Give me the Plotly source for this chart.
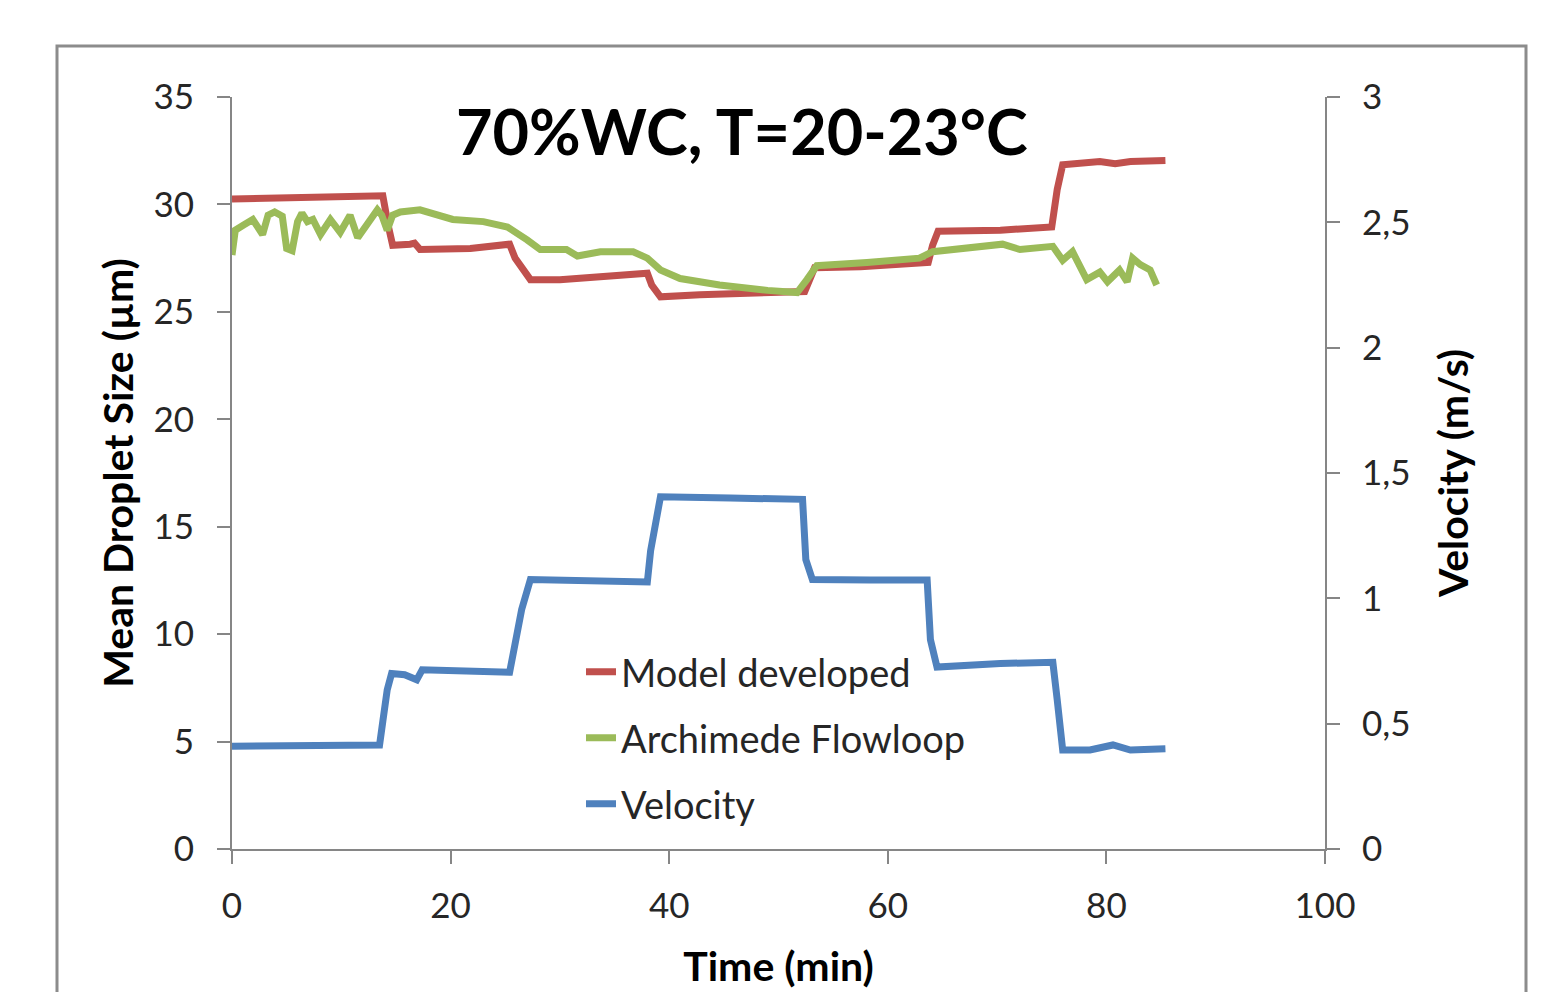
import plotly.graph_objects as go

# ---- data ----
model_t = [0, 6.2, 12.6, 13.8, 14.3, 14.7, 16.3, 16.7, 17.2, 21.8, 25.4, 25.9, 27.3, 30.0, 38.0, 38.4,
           39.2, 42.8, 52.4, 52.9, 53.3, 57.5, 63.7, 64.1, 64.6, 70.3, 75.0, 75.5, 76.0, 79.4, 80.8,
           82.2, 85.4]
model_d = [30.25, 30.3, 30.4, 30.4, 29.0, 28.1, 28.15, 28.2, 27.9, 27.95, 28.15, 27.5, 26.5, 26.5, 26.8,
           26.25, 25.7, 25.8, 25.95, 26.7, 27.05, 27.1, 27.3, 28.1, 28.75, 28.8, 28.95, 30.7, 31.85,
           32.0, 31.9, 32.0, 32.05]

arch_t = [0, 0.3, 1.1, 1.9, 2.8, 3.3, 3.9, 4.6, 5.0, 5.5, 6.0, 6.4, 6.9, 7.4, 8.1, 9.0, 9.9, 10.8,
          11.5, 12.4, 13.3, 13.7, 14.2, 14.7, 15.4, 17.2, 18.8, 20.2, 23.0, 25.2, 27.0, 28.2, 30.6,
          31.6, 33.7, 36.7, 38.0, 39.2, 41.0, 44.6, 49.0, 51.7, 52.6, 53.5, 58.1, 62.9, 64.1, 67.2,
          70.5, 72.1, 75.1, 76.0, 76.9, 78.2, 79.4, 80.1, 80.6, 81.2, 81.9, 82.4, 83.1, 84.0, 84.6]
arch_d = [27.65, 28.8, 29.05, 29.3, 28.6, 29.5, 29.65, 29.45, 27.95, 27.85, 29.2, 29.6, 29.2, 29.3,
          28.6, 29.3, 28.7, 29.5, 28.45, 29.05, 29.75, 29.5, 28.8, 29.5, 29.65, 29.75, 29.5, 29.3,
          29.2, 28.95, 28.35, 27.9, 27.9, 27.6, 27.8, 27.8, 27.5, 26.95, 26.55, 26.25, 26.0, 25.9,
          26.5, 27.15, 27.3, 27.5, 27.8, 28.0, 28.15, 27.9, 28.05, 27.4, 27.8, 26.5, 26.85, 26.4,
          26.7, 26.95, 26.4, 27.5, 27.2, 26.95, 26.25]

vel_t = [0, 13.5, 13.8, 14.2, 14.6, 15.8, 16.9, 17.4, 25.4, 25.9, 26.5, 27.3, 33.7, 38.0, 38.3, 38.7,
         39.2, 45.6, 52.2, 52.5, 53.1, 58.4, 63.6, 63.9, 64.5, 70.3, 75.1, 75.5, 76.0, 78.5, 80.6,
         82.2, 85.4]
vel_v = [0.41, 0.415, 0.51, 0.635, 0.70, 0.695, 0.675, 0.715, 0.705, 0.835, 0.955, 1.075, 1.07, 1.065,
         1.19, 1.29, 1.405, 1.40, 1.395, 1.155, 1.075, 1.073, 1.073, 0.835, 0.726, 0.74, 0.745, 0.595,
         0.395, 0.395, 0.415, 0.395, 0.40]

left_ticks = [0, 5, 10, 15, 20, 25, 30, 35]
right_ticks = [0, 0.5, 1, 1.5, 2, 2.5, 3]
right_labels = ["0", "0,5", "1", "1,5", "2", "2,5", "3"]
x_ticks = [0, 20, 40, 60, 80, 100]

title_text = "70%WC, T=20-23°C"

# ---- styling ----
RED = "#C0504D"
GREEN = "#9BBB59"
BLUE = "#4F81BD"
AX = "#868686"
FONT = "Lato"
TXT = "#262626"

fig = go.Figure()
fig.add_trace(go.Scatter(x=model_t, y=model_d, mode="lines", name="Model developed",
                         line=dict(color=RED, width=7), legend="legend"))
fig.add_trace(go.Scatter(x=arch_t, y=arch_d, mode="lines", name="Archimede Flowloop",
                         line=dict(color=GREEN, width=7), legend="legend2"))
fig.add_trace(go.Scatter(x=vel_t, y=vel_v, mode="lines", name="Velocity", yaxis="y2",
                         line=dict(color=BLUE, width=7), legend="legend3"))

W, H = 1556, 992
OFF = 8  # page body margin
L, R, T, B = 232, 1325, 97, 849
pw, ph = R - L, B - T

def px(xp):
    return (xp - L) / pw

def py(yp):
    return (B - yp) / ph

leg_common = dict(font=dict(family=FONT, size=38, color=TXT), bgcolor="rgba(0,0,0,0)",
                  xanchor="left", yanchor="middle", itemwidth=30)

tick_font = dict(family=FONT, size=35, color=TXT)
title_font = dict(family=FONT, size=41, color="black")

fig.update_layout(
    width=W, height=H,
    margin=dict(l=L - OFF, r=W - R + OFF, t=T - OFF, b=H - B + OFF, autoexpand=False),
    paper_bgcolor="white", plot_bgcolor="white",
    font=dict(family=FONT, color=TXT),
    showlegend=True,
    legend=dict(x=px(581), y=py(672), **leg_common),
    legend2=dict(x=px(581), y=py(738), **leg_common),
    legend3=dict(x=px(581), y=py(804), **leg_common),
    xaxis=dict(range=[0, 100], tickvals=x_ticks, ticks="outside", ticklen=13, tickwidth=2,
               tickcolor=AX, showline=True, linecolor=AX, linewidth=2, showgrid=False,
               zeroline=False, tickfont=tick_font, ticklabelstandoff=12,
               title=dict(text="<b>Time (min)</b>", font=title_font, standoff=28)),
    yaxis=dict(range=[0, 35], tickvals=left_ticks, ticks="outside", ticklen=13, tickwidth=2,
               tickcolor=AX, showline=True, linecolor=AX, linewidth=2, showgrid=False,
               zeroline=False, tickfont=tick_font, ticklabelstandoff=16,
               title=dict(text="<b>Mean Droplet Size (µm)</b>", font=title_font, standoff=7)),
    yaxis2=dict(range=[0, 3], tickvals=right_ticks, ticktext=right_labels, overlaying="y",
                side="right", ticks="outside", ticklen=13, tickwidth=2, tickcolor=AX,
                showline=True, linecolor=AX, linewidth=2, showgrid=False, zeroline=False,
                tickfont=tick_font, ticklabelstandoff=15,
                title=dict(text="<b>Velocity (m/s)</b>", font=title_font, standoff=30)),
    annotations=[dict(text="<b>" + title_text + "</b>", x=px(742), y=py(130), xref="paper",
                      yref="paper", showarrow=False, xanchor="center", yanchor="middle",
                      font=dict(family=FONT, size=63, color="black"))],
    shapes=[dict(type="rect", xref="paper", yref="paper", x0=px(57), x1=px(1526),
                 y0=py(1010), y1=py(46), line=dict(color="#8C8C8C", width=3),
                 fillcolor="rgba(0,0,0,0)", layer="below")],
)

fig.write_html("out.html")
